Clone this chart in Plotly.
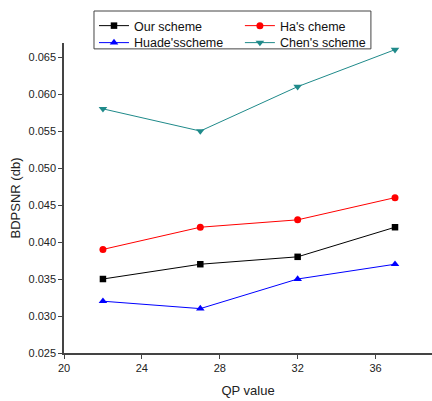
import plotly.graph_objects as go

qp = [22, 27, 32, 37]
our = [0.035, 0.037, 0.038, 0.042]
ha = [0.039, 0.042, 0.043, 0.046]
huade = [0.032, 0.031, 0.035, 0.037]
chen = [0.058, 0.055, 0.061, 0.066]
names = ["Our scheme", "Ha's cheme", "Huade'sscheme", "Chen's scheme"]
colors = ["#000000", "#ff0000", "#0000ff", "#1f8a8a"]
symbols = ["square", "circle", "triangle-up", "triangle-down"]
sizes = [6.5, 7, 7.5, 7.5]
series = [our, ha, huade, chen]
legend_ids = ["legend", "legend2", "legend3", "legend4"]

fig = go.Figure()
for n, s, c, m, sz, lg in zip(names, series, colors, symbols, sizes, legend_ids):
    fig.add_trace(go.Scatter(x=qp, y=s, name=n, mode="lines+markers",
                             line=dict(color=c, width=1),
                             marker=dict(symbol=m, size=sz, color=c),
                             legend=lg))

# legend positions (paper coords)
col_x = [0.0815, 0.478]
row_y = [1.1032, 1.0484]
pos = [(col_x[0], row_y[0]), (col_x[1], row_y[0]), (col_x[0], row_y[1]), (col_x[1], row_y[1])]
leg_common = dict(xanchor="left", yanchor="top", bgcolor="rgba(0,0,0,0)",
                  borderwidth=0, font=dict(size=12.5, color="#111"), itemwidth=30)
legends = {}
for lg, (lx, ly) in zip(legend_ids, pos):
    legends[lg] = dict(x=lx, y=ly, **leg_common)

fig.update_layout(
    width=432, height=401,
    margin=dict(l=64, r=0, t=43, b=48),
    paper_bgcolor="white", plot_bgcolor="white",
    font=dict(family="Liberation Sans, Arial", color="#222"),
    showlegend=True,
    shapes=[dict(type="rect", xref="paper", yref="paper",
                 x0=0.0815, x1=0.834, y0=0.981, y1=1.1032,
                 line=dict(color="#444", width=1), fillcolor="white", layer="below")],
    xaxis=dict(range=[20, 38.9], tick0=20, dtick=4, showgrid=False, zeroline=False,
               showline=True, linecolor="#444", linewidth=1.5, ticks="outside",
               ticklen=4, tickcolor="#444", tickfont=dict(size=11),
               title=dict(text="QP value", font=dict(size=13), standoff=13)),
    yaxis=dict(range=[0.025, 0.0669], tick0=0.025, dtick=0.005, tickformat=".3f",
               showgrid=False, zeroline=False,
               showline=True, linecolor="#444", linewidth=1.5, ticks="outside",
               ticklen=4, tickcolor="#444", tickfont=dict(size=11),
               title=dict(text="BDPSNR (db)", font=dict(size=13), standoff=5)),
    **legends,
)

fig.write_html("out.html")
